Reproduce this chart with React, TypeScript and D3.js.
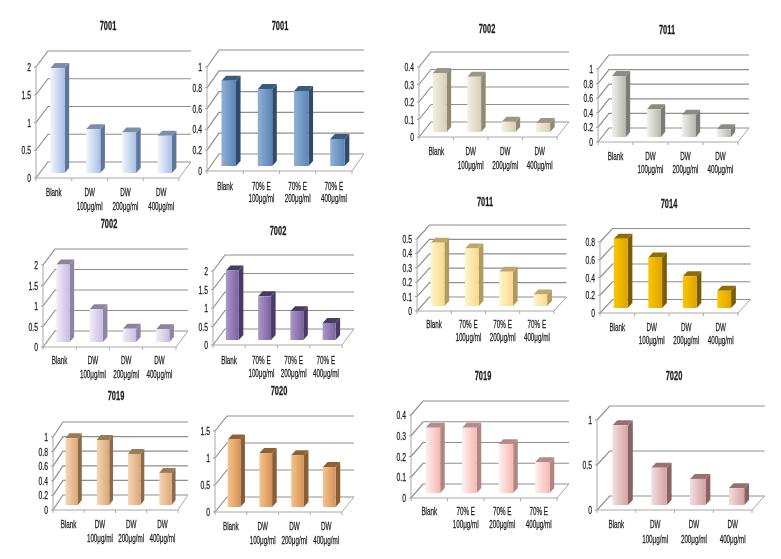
import React from "react";
import * as d3 from "d3";

const dwLabels = ["Blank", "DW|100μg/ml", "DW|200μg/ml", "DW|400μg/ml"];
const etLabels = ["Blank", "70% E|100μg/ml", "70% E|200μg/ml", "70% E|400μg/ml"];

const titles = ["7001", "7001", "7002", "7011", "7002", "7002", "7011", "7014", "7019", "7020", "7019", "7020"];
const values = [
  [1.89, 0.79, 0.73, 0.67],
  [0.82, 0.74, 0.72, 0.26],
  [0.337, 0.316, 0.059, 0.052],
  [0.835, 0.38, 0.305, 0.105],
  [1.89, 0.8, 0.325, 0.31],
  [1.88, 1.18, 0.78, 0.46],
  [0.44, 0.4, 0.238, 0.08],
  [0.78, 0.57, 0.357, 0.195],
  [0.913, 0.89, 0.7, 0.44],
  [1.25, 1.0, 0.96, 0.74],
  [0.315, 0.315, 0.235, 0.148],
  [0.885, 0.415, 0.29, 0.185],
];
const tickSets = [
  [0, 0.5, 1, 1.5, 2],
  [0, 0.2, 0.4, 0.6, 0.8, 1],
  [0, 0.1, 0.2, 0.3, 0.4],
  [0, 0.2, 0.4, 0.6, 0.8, 1],
  [0, 0.5, 1, 1.5, 2],
  [0, 0.5, 1, 1.5, 2],
  [0, 0.1, 0.2, 0.3, 0.4, 0.5],
  [0, 0.2, 0.4, 0.6, 0.8],
  [0, 0.2, 0.4, 0.6, 0.8, 1],
  [0, 0.5, 1, 1.5],
  [0, 0.1, 0.2, 0.3, 0.4],
  [0, 0.5, 1],
];
const labelSets = [dwLabels, etLabels, dwLabels, dwLabels, dwLabels, etLabels, etLabels, dwLabels, dwLabels, dwLabels, etLabels, dwLabels];

// layout: x0, xr, y0, yTop, dx, dy, titleX, titleY, label1Y, label2Y
const layouts = [
  [36, 179, 178, 67, 12, 16, 108, 26, 193, 207],
  [207, 352, 171, 67, 12, 17, 280, 26, 187, 199],
  [419, 557, 137, 67, 12, 15, 487, 29, 152, 166],
  [598, 738, 142, 69, 11, 14, 667, 30, 157, 170],
  [43, 176, 347, 265, 12, 16, 109, 224, 361, 375],
  [213, 342, 345, 271, 12, 16, 278, 231, 361, 374],
  [417, 554, 311, 239, 12.5, 14, 485, 202, 325, 338],
  [600, 738, 313, 242, 12.5, 13.5, 669, 204, 328, 341],
  [53, 178, 510, 437, 10, 15, 116, 396, 525, 539],
  [215, 342, 512, 431, 12, 15, 279, 391, 527, 541],
  [411, 557, 498, 415, 12, 14, 483, 376, 512, 525],
  [597, 752, 510, 420, 12.7, 14, 674, 376, 525, 540],
];
// colours: light, dark, top, side
const palettes = [
  ["#f2f5fc", "#a8bfe8", "#7f8ea8", "#5f7599"],
  ["#8fb0d8", "#5c83b3", "#3c5a7e", "#2f4a6a"],
  ["#f4efe0", "#d6cfb8", "#9a9681", "#8f8a73"],
  ["#f0f0ec", "#b6b6b0", "#8b8b85", "#7c7c76"],
  ["#f2edf8", "#c8bce0", "#8b8399", "#8e84a4"],
  ["#ab97c8", "#7a62a0", "#4a3b62", "#4a3b66"],
  ["#fff5cc", "#fad88a", "#bfa76b", "#b09a5f"],
  ["#f8c800", "#e2a200", "#8f6c00", "#7a5c00"],
  ["#f5d6b4", "#dba777", "#9c7a55", "#8a6a4b"],
  ["#f7c28c", "#d4935a", "#8d6236", "#8a5d32"],
  ["#fff0ee", "#f6b8b2", "#b88a87", "#b08481"],
  ["#f4dede", "#d4a2a4", "#987070", "#8a6262"],
];

const FONT = "'Liberation Sans', Arial, sans-serif";
const TEXT = "#1c1c1c";

function Squeezed({ x, y, anchor, size, weight, children, sx = 0.6 }: any) {
  return (
    <text
      transform={`translate(${x},${y}) scale(${sx},1)`}
      textAnchor={anchor}
      fontFamily={FONT}
      fontSize={size}
      fontWeight={weight}
      fill={TEXT}
      stroke={TEXT}
      strokeWidth={0.25}
    >
      {children}
    </text>
  );
}

function Panel({ idx }: { idx: number }) {
  const [x0, xr, y0, yTop, dx, dy, titleX, titleY, l1, l2] = layouts[idx];
  const vals = values[idx];
  const ticks = tickSets[idx];
  const labels = labelSets[idx];
  const [light, dark, top, side] = palettes[idx];
  const maxT = ticks[ticks.length - 1];
  const y = d3.scaleLinear().domain([0, maxT]).range([y0, yTop]);
  const x = d3.scaleBand<number>().domain(d3.range(vals.length)).range([x0, xr]);
  const band = x.bandwidth();
  const w = band * 0.4;
  const barDx = dx * 0.38;
  const barDy = 5;
  const gradId = `grad-${idx}`;
  const line = d3.line();
  return (
    <g>
      <defs>
        <linearGradient id={gradId} x1="0" x2="1" y1="0" y2="0">
          <stop offset="0" stopColor={light} />
          <stop offset="1" stopColor={dark} />
        </linearGradient>
      </defs>
      <Squeezed x={titleX} y={titleY + 4} anchor="middle" size={12} weight={700} sx={0.62}>
        {titles[idx]}
      </Squeezed>
      {ticks.map((t) => (
        <g key={t}>
          <path
            d={line([[x0, y(t)], [x0 + dx, y(t) - dy], [xr + dx, y(t) - dy]]) as string}
            fill="none"
            stroke="#8f8f8f"
            strokeWidth={1.2}
          />
          <path d={`M${x0 - 2},${y(t)}H${x0}`} stroke="#999" strokeWidth={1} />
          <Squeezed x={x0 - 5} y={y(t) + 4} anchor="end" size={11} weight={400} sx={0.62}>
            {String(t)}
          </Squeezed>
        </g>
      ))}
      <path d={`M${x0},${y(maxT)}V${y0}H${xr}l${dx},${-dy}`} fill="none" stroke="#a8a8a8" strokeWidth={1} />
      {labels.map((lab, i) => {
        const parts = lab.split("|");
        const cx = (x(i) as number) + band * 0.5;
        return (
          <g key={i}>
            <path d={`M${x(i)},${y0}v3`} stroke="#aaa" strokeWidth={1} />
            {i === labels.length - 1 ? <path d={`M${xr},${y0}v3`} stroke="#aaa" strokeWidth={1} /> : null}
            <Squeezed x={cx} y={l1 + 3} anchor="middle" size={10.5} weight={400}>
              {parts[0]}
            </Squeezed>
            {parts[1] ? (
              <Squeezed x={cx} y={l2 + 3} anchor="middle" size={10.5} weight={400}>
                {parts[1]}
              </Squeezed>
            ) : null}
          </g>
        );
      })}
      {vals.map((v, i) => {
        const left = (x(i) as number) + band * 0.4;
        const bottom = y(0) - barDy;
        const topY = y(v) - barDy;
        return (
          <g key={i}>
            <path
              d={line([[left + w, topY], [left + w + barDx, topY - barDy], [left + w + barDx, bottom - barDy], [left + w, bottom]]) + "Z"}
              fill={side}
            />
            <path
              d={line([[left, topY], [left + barDx, topY - barDy], [left + w + barDx, topY - barDy], [left + w, topY]]) + "Z"}
              fill={top}
            />
            <rect x={left} y={topY} width={w} height={bottom - topY} fill={`url(#${gradId})`} />
          </g>
        );
      })}
    </g>
  );
}

export default function App() {
  return (
    <svg
      width={781}
      height={559}
      style={{ position: "absolute", left: 0, top: 0, background: "#fff", filter: "blur(0.35px)" }}
    >
      {titles.map((_, i) => (
        <Panel key={i} idx={i} />
      ))}
    </svg>
  );
}
